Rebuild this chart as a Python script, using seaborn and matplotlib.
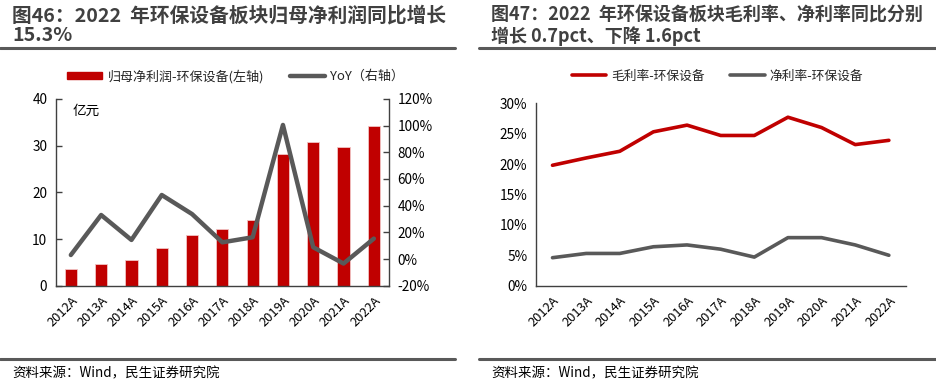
import pandas as pd
import matplotlib.pyplot as plt
import matplotlib.patches as mpatches
from matplotlib.lines import Line2D
from matplotlib.ticker import FuncFormatter, FixedLocator
import seaborn as sns

# 数据
years = ['2012A', '2013A', '2014A', '2015A', '2016A', '2017A', '2018A',
         '2019A', '2020A', '2021A', '2022A']
net_profit = [3.5, 4.7, 5.4, 8.0, 10.8, 12.1, 14.1, 28.3, 30.8, 29.7, 34.3]
yoy = [3.0, 33.0, 14.3, 48.0, 33.7, 12.5, 16.3, 100.5, 8.8, -3.4, 15.3]
gross_margin = [19.8, 21.0, 22.1, 25.3, 26.4, 24.7, 24.7, 27.7, 26.0, 23.2, 23.9]
net_margin = [4.6, 5.3, 5.3, 6.4, 6.7, 6.0, 4.7, 7.9, 7.9, 6.7, 5.0]

RED = '#C00000'
GRAY = '#595959'
TXT = '#404040'

sns.set_style('white')
plt.rcParams['font.family'] = ['Noto Sans CJK SC', 'DejaVu Sans']
plt.rcParams['axes.unicode_minus'] = False

df = pd.DataFrame({'年份': years, '归母净利润': net_profit, 'YoY': yoy,
                   '毛利率': gross_margin, '净利率': net_margin})
df['idx'] = range(len(years))

fig = plt.figure(figsize=(9.36, 3.89), dpi=100)


def style_axis(ax):
    for s in ['top', 'right']:
        ax.spines[s].set_visible(False)
    for s in ['left', 'bottom']:
        ax.spines[s].set_color(TXT)
        ax.spines[s].set_linewidth(1.0)
    ax.set_xlim(-0.5, len(years) - 0.5)
    ax.set_xticks(range(len(years)))
    ax.set_xticklabels(years, rotation=45, ha='right', rotation_mode='anchor',
                       fontsize=9.3, color='black')
    ax.tick_params(axis='x', which='major', length=0, pad=6)
    ax.xaxis.set_minor_locator(FixedLocator([i + 0.5 for i in range(len(years))]))
    ax.tick_params(axis='x', which='minor', direction='in', length=4,
                   color=TXT, width=1)
    ax.tick_params(axis='y', direction='in', length=4, color=TXT, width=1,
                   labelsize=9.8, labelcolor='black', pad=6)
    ax.set_xlabel('')
    ax.set_ylabel('')


# 左图：归母净利润 + YoY
ax1 = fig.add_axes([0.0595, 0.2656, 0.3561, 0.48])
sns.barplot(data=df, x='年份', y='归母净利润', color=RED, width=0.4,
            edgecolor='#F2C4C4', linewidth=0.6, saturation=1, ax=ax1)
style_axis(ax1)
ax1.set_ylim(0, 40)
ax1.set_yticks([0, 10, 20, 30, 40])
ax1.text(0.05, 0.935, '亿元', transform=ax1.transAxes, fontsize=9.8,
         color='black', va='center')

ax2 = ax1.twinx()
sns.lineplot(data=df, x='idx', y='YoY', color=GRAY, linewidth=3.2, ax=ax2)
ax2.set_ylim(-20, 120)
ax2.set_yticks(range(-20, 121, 20))
ax2.yaxis.set_major_formatter(FuncFormatter(lambda v, p: f'{v:.0f}%'))
for s in ['top', 'left', 'bottom']:
    ax2.spines[s].set_visible(False)
ax2.spines['right'].set_color(TXT)
ax2.spines['right'].set_linewidth(1.0)
ax2.tick_params(axis='y', direction='in', length=4, color=TXT, width=1,
                labelsize=9.8, labelcolor='black', pad=6)
ax2.set_xlabel('')
ax2.set_ylabel('')
ax2.set_xlim(-0.5, len(years) - 0.5)

h1 = [mpatches.Patch(color=RED), Line2D([], [], color=GRAY, linewidth=3.2)]
fig.legend(h1, ['归母净利润-环保设备(左轴)', 'YoY（右轴）'], loc='center left',
           bbox_to_anchor=(0.0715, 0.804), ncol=2, frameon=False, fontsize=9.4,
           handlelength=2.7, handleheight=0.55, columnspacing=2.0,
           handletextpad=0.4, borderaxespad=0, borderpad=0)

# 右图：毛利率 + 净利率
ax3 = fig.add_axes([0.5723, 0.2656, 0.3953, 0.469])
sns.lineplot(data=df, x='idx', y='毛利率', color=RED, linewidth=2.6, ax=ax3)
sns.lineplot(data=df, x='idx', y='净利率', color=GRAY, linewidth=2.6, ax=ax3)
style_axis(ax3)
ax3.set_ylim(0, 30)
ax3.set_yticks(range(0, 31, 5))
ax3.yaxis.set_major_formatter(FuncFormatter(lambda v, p: f'{v:.0f}%'))

h2 = [Line2D([], [], color=RED, linewidth=2.6), Line2D([], [], color=GRAY, linewidth=2.6)]
fig.legend(h2, ['毛利率-环保设备', '净利率-环保设备'], loc='center left',
           bbox_to_anchor=(0.611, 0.804), ncol=2, frameon=False, fontsize=9.2,
           handlelength=2.7, columnspacing=2.0, handletextpad=0.35,
           borderaxespad=0, borderpad=0)

# 标题与分隔线
fig.text(12 / 936, 1 - 25.5 / 389, '图46：2022  年环保设备板块归母净利润同比增长\n15.3%',
         fontsize=14.2, fontweight='bold', color=TXT, va='center', ha='left',
         linespacing=1.0)
fig.text(491 / 936, 1 - 25.5 / 389, '图47：2022  年环保设备板块毛利率、净利率同比分别\n增长 0.7pct、下降 1.6pct',
         fontsize=13.0, fontweight='bold', color=TXT, va='center', ha='left',
         linespacing=1.1)

for x0, x1 in [(0, 455), (479, 936)]:
    for yy in [47.5, 359]:
        fig.add_artist(Line2D([x0 / 936, x1 / 936], [1 - yy / 389, 1 - yy / 389],
                              color=GRAY, linewidth=2.2, transform=fig.transFigure))

fig.text(12 / 936, 1 - 373 / 389, '资料来源：Wind，民生证券研究院', fontsize=9.7,
         color='black', va='center', ha='left')
fig.text(491 / 936, 1 - 373 / 389, '资料来源：Wind，民生证券研究院', fontsize=9.7,
         color='black', va='center', ha='left')

fig.savefig('out.png', dpi=100)
